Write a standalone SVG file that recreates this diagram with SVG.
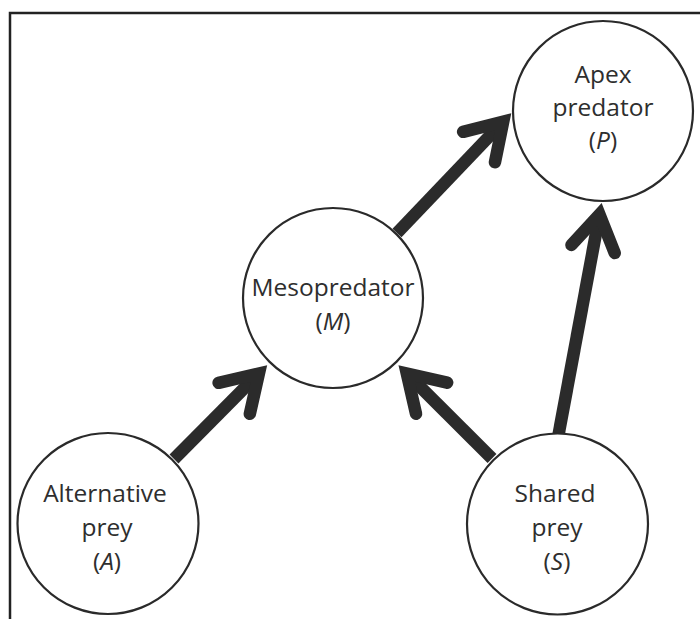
<svg xmlns="http://www.w3.org/2000/svg" width="700" height="619" viewBox="0 0 700 619">
  <style>
    .frame { fill: none; stroke: #222; stroke-width: 2.5; }
    .node circle { fill: #fff; stroke: #2a2a2a; stroke-width: 2.2; }
    .node text { font-family: "Open Sans", "Noto Sans", "DejaVu Sans", sans-serif; font-size: 24.5px; fill: #2e2e2e; text-anchor: middle; }
    .it { font-style: italic; }
    .edge { stroke: #2b2b2b; stroke-width: 12.5; stroke-linecap: butt; fill: none; marker-end: url(#head); }
  </style>
  <defs>
    <marker id="head" markerUnits="userSpaceOnUse" orient="auto" refX="0" refY="0" markerWidth="80" markerHeight="80" viewBox="-50 -40 80 80" overflow="visible">
      <polyline points="-35,-22 0,0 -35,22" fill="none" stroke="#2b2b2b" stroke-width="12.5" stroke-linecap="round" stroke-linejoin="miter" stroke-miterlimit="6"/>
    </marker>
  </defs>
  <rect width="700" height="619" fill="#fff"/>
  <path class="frame" d="M10,619 V13 H700"/>
  <g id="connectors">
    <line class="edge" x1="397" y1="233" x2="503.2" y2="121.7"/>
    <line class="edge" x1="174" y1="459" x2="258.9" y2="373.5"/>
    <line class="edge" x1="492" y1="458.5" x2="406.8" y2="373.5"/>
    <line class="edge" x1="558.3" y1="436" x2="599.5" y2="214.5"/>
  </g>
  <g id="apex" class="node">
    <circle cx="603" cy="111" r="90"/>
    <text x="603" y="83">Apex</text>
    <text x="603" y="116">predator</text>
    <text x="603" y="149">(<tspan class="it">P</tspan>)</text>
  </g>
  <g id="meso" class="node">
    <circle cx="333" cy="298" r="90"/>
    <text x="333" y="296">Mesopredator</text>
    <text x="333" y="330">(<tspan class="it">M</tspan>)</text>
  </g>
  <g id="alt" class="node">
    <circle cx="108" cy="523.5" r="90.5"/>
    <text x="105" y="502">Alternative</text>
    <text x="107" y="536">prey</text>
    <text x="107" y="570">(<tspan class="it">A</tspan>)</text>
  </g>
  <g id="shared" class="node">
    <circle cx="557.5" cy="524" r="90.5"/>
    <text x="555" y="502">Shared</text>
    <text x="557" y="536">prey</text>
    <text x="557" y="570">(<tspan class="it">S</tspan>)</text>
  </g>
</svg>
